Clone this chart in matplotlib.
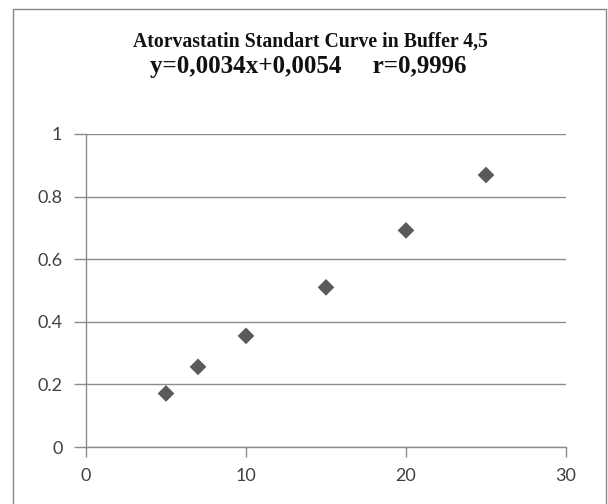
import matplotlib
matplotlib.use("Agg")
import matplotlib.pyplot as plt
from matplotlib.patches import Rectangle

# Calibration data: concentration vs absorbance
concentration = [5, 7, 10, 15, 20, 25]
absorbance = [0.171, 0.256, 0.355, 0.510, 0.692, 0.869]

x_ticks = [0, 10, 20, 30]
y_ticks = [0, 0.2, 0.4, 0.6, 0.8, 1]
y_tick_labels = ["0", "0.2", "0.4", "0.6", "0.8", "1"]

title_line1 = "Atorvastatin Standart Curve in Buffer 4,5"
title_line2 = "y=0,0034x+0,0054     r=0,9996"

W, H, DPI = 608, 504, 100
fig = plt.figure(figsize=(W / DPI, H / DPI), dpi=DPI)
fig.patch.set_facecolor("white")

# chart frame
fig.add_artist(Rectangle((13 / W, -0.01), (606 - 13) / W, 1.01 - 9 / H,
                         transform=fig.transFigure, fill=False,
                         edgecolor="#868686", linewidth=1.0))

left, right = 86 / W, 566 / W
bottom, top = (H - 447) / H, (H - 134) / H
ax = fig.add_axes([left, bottom, right - left, top - bottom])

grid_col = "#8c8c8c"
ax.scatter(concentration, absorbance, marker="D", s=8.5 ** 2,
           color="#5a5a5a", edgecolors="none", zorder=3, clip_on=False)

ax.set_xlim(0, 30)
ax.set_ylim(0, 1)
ax.set_xticks(x_ticks)
ax.set_yticks(y_ticks)
ax.set_yticklabels(y_tick_labels)

ax.grid(axis="y", color=grid_col, linewidth=1.0)
ax.set_axisbelow(True)
for side in ("top", "right"):
    ax.spines[side].set_visible(False)
for side in ("left", "bottom"):
    ax.spines[side].set_color(grid_col)
    ax.spines[side].set_linewidth(1.0)

ax.tick_params(axis="y", direction="out", length=9, width=1.0,
               color=grid_col, pad=8, labelsize=13, labelcolor="#404040")
ax.tick_params(axis="x", direction="out", length=7, width=1.0,
               color=grid_col, pad=8, labelsize=13, labelcolor="#404040")
for lab in ax.get_xticklabels() + ax.get_yticklabels():
    lab.set_fontfamily("Lato")

fig.text(310 / W, 1 - 47 / H, title_line1, ha="center", va="baseline",
         fontfamily="Liberation Serif", fontweight="bold", fontsize=14.2,
         color="#111111")
fig.text(308 / W, 1 - 73 / H, title_line2, ha="center", va="baseline",
         fontfamily="Liberation Serif", fontweight="bold", fontsize=18,
         color="#111111")

fig.savefig("out.png", dpi=DPI)
